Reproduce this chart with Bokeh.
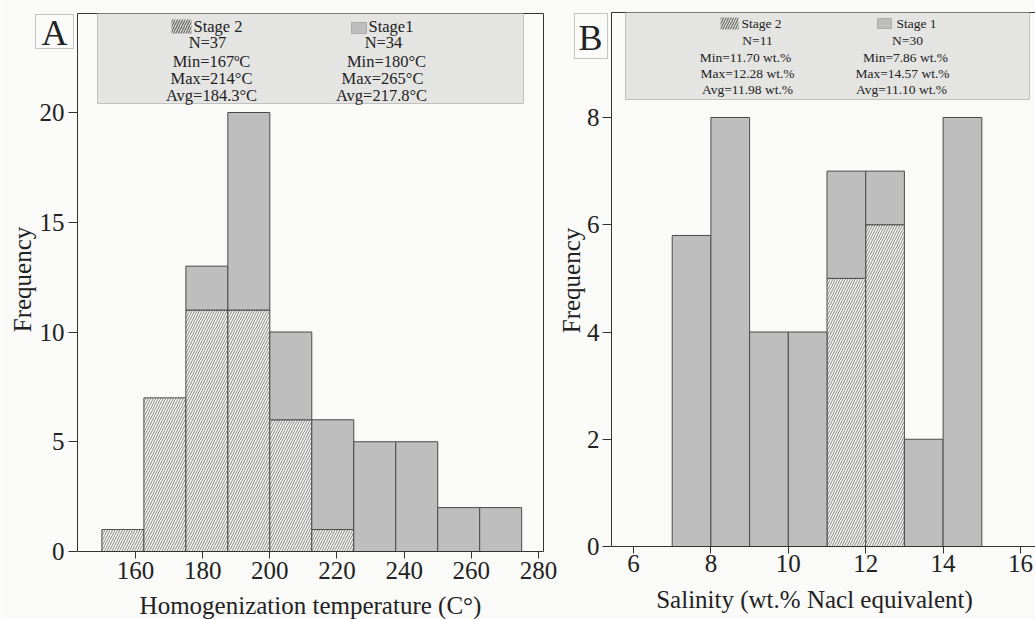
from bokeh.plotting import figure
from bokeh.models import Label, BoxAnnotation, FixedTicker, Range1d, LinearAxis
from bokeh.embed import file_html
from bokeh.resources import INLINE

# ---------------- data ----------------
temp_edges = [150, 162.5, 175, 187.5, 200, 212.5, 225, 237.5, 250, 262.5, 275]
temp_stage2 = [1, 7, 11, 11, 6, 1, 0, 0, 0, 0]
temp_stage1 = [0, 0, 2, 9, 4, 5, 5, 5, 2, 2]
temp_xticks = [160, 180, 200, 220, 240, 260, 280]
temp_yticks = [0, 5, 10, 15, 20]

sal_edges = [7, 8, 9, 10, 11, 12, 13, 14, 15]
sal_stage2 = [0, 0, 0, 0, 5, 6, 0, 0]
sal_stage1 = [5.8, 8, 4, 4, 2, 1, 2, 8]
sal_xticks = [6, 8, 10, 12, 14, 16]
sal_yticks = [0, 2, 4, 6, 8]

legend_A_s2 = ["N=37", "Min=167\u00baC", "Max=214\u00b0C", "Avg=184.3\u00b0C"]
legend_A_s1 = ["N=34", "Min=180\u00b0C", "Max=265\u00b0C", "Avg=217.8\u00b0C"]
legend_B_s2 = ["N=11", "Min=11.70 wt.%", "Max=12.28 wt.%", "Avg=11.98 wt.%"]
legend_B_s1 = ["N=30", "Min=7.86 wt.%", "Max=14.57 wt.%", "Avg=11.10 wt.%"]

FONT = "Liberation Serif"
BG = "#fafaf8"
GRAY = "#bebebe"
EDGE = "#4a4a4a"
TXT = "#222222"
W, H = 1035, 619

# ----- page-pixel geometry of the two panels -----
# panel A: x 160 at px 135, 3.358 px/unit; y 0 at px 551, 21.95 px/unit
AX0, AXS, AY0, AYS = 135, 3.358, 551, 21.95
# panel B: x 6 at px 633, 38.7 px/unit; y 0 at px 546, 53.625 px/unit
BX0, BXS, BY0, BYS = 633, 38.7, 546, 53.625

def ax_from_px(px):
    return 160 + (px - AX0) / AXS

def ay_from_px(py):
    return (AY0 - py) / AYS

def bx_from_px(px):
    return 6 + (px - BX0) / BXS

def by_from_px(py):
    return (BY0 - py) / BYS


p = figure(width=W, height=H, title=None,
           x_range=Range1d(ax_from_px(0), ax_from_px(W)),
           y_range=Range1d(ay_from_px(H), ay_from_px(0)),
           output_backend="svg", toolbar_location=None,
           min_border=0, min_border_left=0, min_border_right=0,
           min_border_top=0, min_border_bottom=0)
p.extra_x_ranges = {"b": Range1d(bx_from_px(0), bx_from_px(W))}
p.extra_y_ranges = {"b": Range1d(by_from_px(H), by_from_px(0))}
p.background_fill_color = BG
p.border_fill_color = BG
p.outline_line_color = None
p.grid.visible = False


def style_axis(ax, tick_out, standoff):
    ax.axis_line_color = "#333333"
    ax.major_tick_line_color = "#333333"
    ax.major_tick_in = 0
    ax.major_tick_out = tick_out
    ax.minor_tick_line_color = None
    ax.major_label_text_font = FONT
    ax.major_label_text_font_size = "25px"
    ax.major_label_text_color = TXT
    ax.major_label_standoff = standoff


def line_axis(**kw):
    ax = LinearAxis(ticker=FixedTicker(ticks=[]), axis_line_color="#333333",
                    major_tick_out=0, major_tick_in=0, major_label_standoff=0,
                    minor_tick_line_color=None, major_label_text_font_size="0px", **kw)
    return ax


# ---- panel A axes ----
a_left, a_right = ax_from_px(77), ax_from_px(543)
a_top = ay_from_px(13)
xa = p.xaxis[0]
ya = p.yaxis[0]
xa.ticker = FixedTicker(ticks=temp_xticks)
ya.ticker = FixedTicker(ticks=temp_yticks)
xa.fixed_location = 0
xa.bounds = (a_left, a_right)
ya.fixed_location = a_left
ya.bounds = (0, a_top)
style_axis(xa, 7, 3)
style_axis(ya, 9, 4)
p.add_layout(line_axis(fixed_location=a_top, bounds=(a_left, a_right)), "above")
p.add_layout(line_axis(fixed_location=a_right, bounds=(0, a_top)), "right")

# ---- panel B axes ----
b_left, b_right = bx_from_px(611), bx_from_px(W)
b_top = by_from_px(12)
xb = LinearAxis(x_range_name="b", y_range_name="b", ticker=FixedTicker(ticks=sal_xticks),
                fixed_location=0, bounds=(b_left, b_right))
yb = LinearAxis(x_range_name="b", y_range_name="b", ticker=FixedTicker(ticks=sal_yticks),
                fixed_location=b_left, bounds=(0, b_top))
style_axis(xb, 7, 1)
style_axis(yb, 9, 3)
p.add_layout(xb, "below")
p.add_layout(yb, "left")
p.add_layout(line_axis(x_range_name="b", y_range_name="b", fixed_location=b_top,
                       bounds=(b_left, b_right)), "above")


def draw_hist(edges, s2, s1, **rk):
    l2 = [edges[i] for i in range(len(s2)) if s2[i] > 0]
    r2 = [edges[i + 1] for i in range(len(s2)) if s2[i] > 0]
    t2 = [s2[i] for i in range(len(s2)) if s2[i] > 0]
    p.quad(left=l2, right=r2, bottom=0, top=t2, fill_color="#f9f9f7",
           line_color=EDGE, line_width=1, hatch_pattern="/", hatch_color="#858585",
           hatch_scale=5, hatch_weight=1.0, **rk)
    l1 = [edges[i] for i in range(len(s1)) if s1[i] > 0]
    r1 = [edges[i + 1] for i in range(len(s1)) if s1[i] > 0]
    b1 = [s2[i] for i in range(len(s1)) if s1[i] > 0]
    t1 = [s2[i] + s1[i] for i in range(len(s1)) if s1[i] > 0]
    p.quad(left=l1, right=r1, bottom=b1, top=t1, fill_color=GRAY,
           line_color=EDGE, line_width=1, **rk)


draw_hist(temp_edges, temp_stage2, temp_stage1)
draw_hist(sal_edges, sal_stage2, sal_stage1, x_range_name="b", y_range_name="b")


def add_text(px, py, text, size, align="center", angle=0.0):
    p.add_layout(Label(x=px, y=H - py, x_units="screen", y_units="screen",
                       text=text, text_font=FONT, text_font_size=size, angle=angle,
                       text_color=TXT, text_align=align, text_baseline="middle"))


def add_box(x0, y0, x1, y1, **kw):
    p.add_layout(BoxAnnotation(left=x0, right=x1, top=H - y0, bottom=H - y1,
                               left_units="screen", right_units="screen",
                               top_units="screen", bottom_units="screen",
                               editable=False, **kw))


# axis titles
add_text(310, 605, "Homogenization temperature (C\u00b0)", "25px")
add_text(22, 279, "Frequency", "25px", angle=1.5708)
add_text(814, 599, "Salinity (wt.% Nacl equivalent)", "25px")
add_text(571, 280, "Frequency", "25px", angle=1.5708)

# ---- legend A ----
add_box(97, 13, 523, 103, fill_color="#e4e4e2", fill_alpha=1, line_color="#555555", line_width=1)
add_box(171, 19, 191, 33, fill_color=None, fill_alpha=0, line_color=None,
        hatch_pattern="/", hatch_color="#6a6a6a", hatch_scale=5, hatch_weight=1.3)
add_text(193, 26, "Stage 2", "16.5px", "left")
add_box(351, 22, 366, 33, fill_color=GRAY, fill_alpha=1, line_color="#555555", line_width=1)
add_text(368, 26, "Stage1", "16.5px", "left")
ys = [42, 61, 78, 95]
xs2 = [207, 211, 211, 211]
xs1 = [383, 386, 382, 381]
for i in range(4):
    add_text(xs2[i], ys[i], legend_A_s2[i], "16.5px")
    add_text(xs1[i], ys[i], legend_A_s1[i], "16.5px")
add_box(35, 14, 73, 48, fill_color=BG, fill_alpha=1, line_color="#444444", line_width=1)
add_text(54, 32, "A", "36px")

# ---- legend B ----
add_box(625, 12, 1029, 99, fill_color="#e4e4e2", fill_alpha=1, line_color="#555555", line_width=1)
add_box(720, 17, 738, 29, fill_color=None, fill_alpha=0, line_color=None,
        hatch_pattern="/", hatch_color="#6a6a6a", hatch_scale=5, hatch_weight=1.2)
add_text(741, 23, "Stage 2", "13.5px", "left")
add_box(877, 18, 891, 28, fill_color=GRAY, fill_alpha=1, line_color="#555555", line_width=1)
add_text(896, 23, "Stage 1", "13.5px", "left")
ysb = [40, 57, 73, 89]
xb2 = [757, 745, 747, 747]
xb1 = [907, 905, 902, 901]
for i in range(4):
    add_text(xb2[i], ysb[i], legend_B_s2[i], "13.5px")
    add_text(xb1[i], ysb[i], legend_B_s1[i], "13.5px")
add_box(574, 13, 607, 58, fill_color=BG, fill_alpha=1, line_color="#444444", line_width=1)
add_text(590, 37, "B", "36px")

open("out.html", "w").write(file_html(p, INLINE))
